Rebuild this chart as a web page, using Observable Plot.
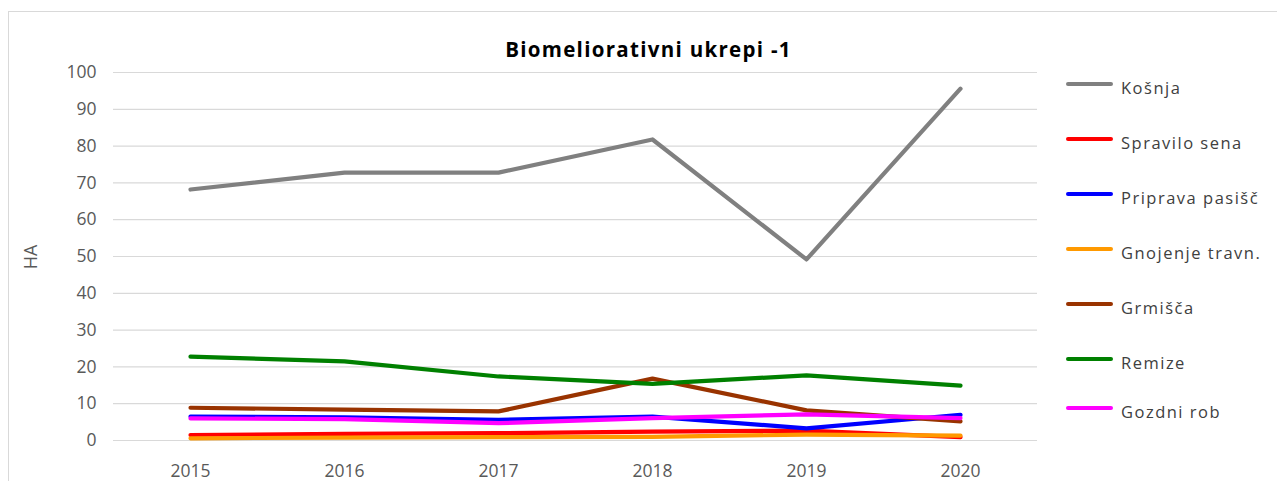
<!DOCTYPE html>
<html>
<head>
<meta charset="utf-8">
<script src="https://cdn.jsdelivr.net/npm/d3@7"></script>
<script src="https://cdn.jsdelivr.net/npm/@observablehq/plot@0.6"></script>
<style>
  html, body { margin: 0; padding: 0; background: #fff; width: 1277px; height: 481px; overflow: hidden; }
  #wrap { position: relative; width: 1277px; height: 481px; }
  #frame { position: absolute; left: 8px; top: 11px; width: 1400px; height: 600px; border: 1.5px solid #d9d9d9; box-sizing: border-box; }
  #title { position: absolute; left: 0; width: 1297px; top: 39px; line-height: 1; text-align: center; font-family: "Open Sans", sans-serif; font-weight: bold; font-size: 20.5px; letter-spacing: 1.3px; color: #000; }
  #ylabel { position: absolute; left: 30px; top: 257px; transform: translate(-50%, -50%) rotate(-90deg); font-family: "Open Sans", sans-serif; font-size: 18px; color: #595959; white-space: nowrap; }
  #legend { position: absolute; left: 1066px; top: 0; font-family: "Open Sans", sans-serif; font-size: 16.5px; color: #404040; letter-spacing: 1.5px; }
  .item { position: absolute; left: 0; white-space: nowrap; display: flex; align-items: center; }
  .swatch { width: 47px; height: 4px; border-radius: 2px; margin-right: 8px; }
  .item span { position: relative; top: 3px; }
  #chart { position: absolute; left: 0; top: 0; }
</style>
</head>
<body>
<div id="wrap">
  <div id="frame"></div>
  <div id="chart"></div>
  <div id="title">Biomeliorativni ukrepi -1</div>
  <div id="ylabel">HA</div>
  <div id="legend"></div>
</div>
<script>
const years = ["2015", "2016", "2017", "2018", "2019", "2020"];
const seriesNames = ["Košnja", "Spravilo sena", "Priprava pasišč", "Gnojenje travn.", "Grmišča", "Remize", "Gozdni rob"];
const seriesColors = ["#808080", "#ff0000", "#0000ff", "#ff9900", "#993300", "#008000", "#ff00ff"];
const kosnja   = [68.2, 72.8, 72.8, 81.8, 49.2, 95.6];
const spravilo = [1.5, 1.8, 2.0, 2.4, 2.7, 0.9];
const priprava = [6.5, 6.3, 5.6, 6.5, 3.3, 7.0];
const gnojenje = [0.6, 0.8, 0.9, 1.0, 1.6, 1.3];
const grmisca  = [8.9, 8.4, 7.9, 16.8, 8.2, 5.2];
const remize   = [22.8, 21.5, 17.4, 15.4, 17.7, 14.9];
const gozdni   = [6.0, 5.8, 4.7, 6.1, 7.1, 6.1];
const yTicks = [0, 10, 20, 30, 40, 50, 60, 70, 80, 90, 100];

const seriesValues = [kosnja, spravilo, priprava, gnojenje, grmisca, remize, gozdni];
const rows = [];
seriesNames.forEach((name, i) => {
  years.forEach((yr, j) => rows.push({series: name, year: yr, value: seriesValues[i][j]}));
});

const plot = Plot.plot({
  width: 1277,
  height: 481,
  marginLeft: 113,
  marginRight: 240,
  marginTop: 72,
  marginBottom: 41,
  style: {fontFamily: "'Open Sans', sans-serif", fontSize: "17.5px", color: "#595959", background: "transparent"},
  x: {type: "point", domain: years, padding: 0.5},
  y: {domain: [0, 100]},
  color: {domain: seriesNames, range: seriesColors},
  marks: [
    Plot.gridY(yTicks, {stroke: "#d9d9d9", strokeOpacity: 1, strokeWidth: 1.2}),
    Plot.axisY(yTicks, {tickSize: 0, tickPadding: 17, label: null, fill: "#595959"}),
    Plot.axisX({tickSize: 0, tickPadding: 24, label: null, fill: "#595959"}),
    Plot.line(rows, {x: "year", y: "value", z: "series", stroke: "series", strokeWidth: 4.2, strokeLinecap: "round", strokeLinejoin: "round"})
  ]
});
document.getElementById("chart").appendChild(plot);

const legendTops = [86, 141, 196, 251, 306, 361, 410];
const legend = document.getElementById("legend");
seriesNames.forEach((name, i) => {
  const item = document.createElement("div");
  item.className = "item";
  item.style.top = (legendTops[i] - 14) + "px";
  item.style.height = "24px";
  const sw = document.createElement("div");
  sw.className = "swatch";
  sw.style.background = seriesColors[i];
  const t = document.createElement("span");
  t.textContent = name;
  item.appendChild(sw);
  item.appendChild(t);
  legend.appendChild(item);
});
</script>
</body>
</html>
